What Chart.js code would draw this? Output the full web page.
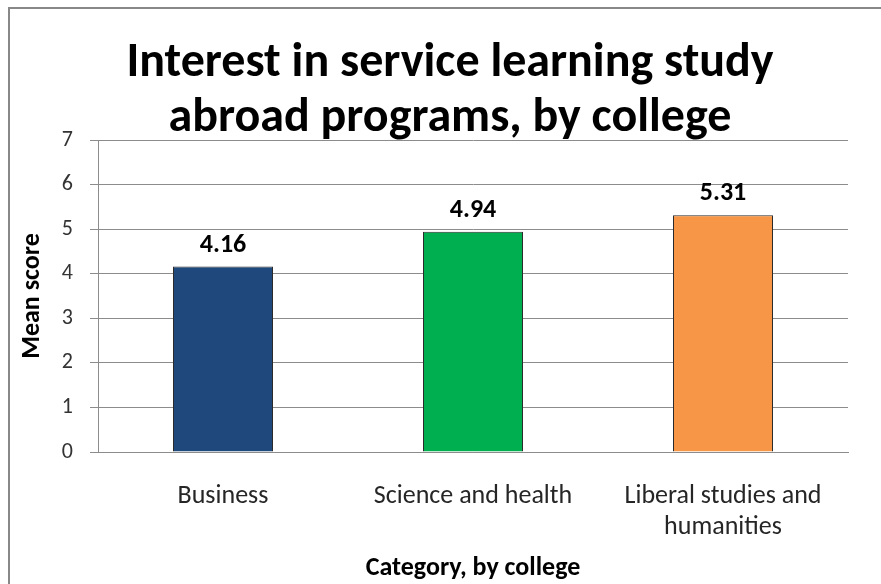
<!DOCTYPE html>
<html>
<head>
<meta charset="utf-8">
<title>Interest in service learning study abroad programs</title>
<script src="https://cdn.jsdelivr.net/npm/chart.js@4/dist/chart.umd.min.js"></script>
<style>
  html, body { margin: 0; padding: 0; background: #fff; }
  canvas { display: block; }
</style>
</head>
<body>
<canvas id="chart" width="881" height="584"></canvas>
<script>
"use strict";

// college categories and mean interest scores
const colleges = ['Business', 'Science and health', ['Liberal studies and', 'humanities']];
const scores = [4.16, 4.94, 5.31];
const barColors = ['#1f497d', '#00b050', '#f79646'];
const titleLines = ['Interest in service learning study', 'abroad programs, by college'];

const FONT = 'Carlito, Calibri, "Open Sans", sans-serif';
Chart.defaults.font.family = FONT;

// white background + grey frame around the whole chart
const frame = {
    id: 'frame',
    beforeDraw(chart) {
        const { ctx, width, height } = chart;
        ctx.save();
        ctx.fillStyle = '#fff';
        ctx.fillRect(0, 0, width, height);
        ctx.strokeStyle = '#888';
        ctx.lineWidth = 2;
        ctx.strokeRect(9, 8, width + 20, height + 20);
        ctx.restore();
    }
};

// value printed above each bar
const valueLabels = {
    id: 'valueLabels',
    afterDatasetsDraw(chart) {
        const { ctx } = chart;
        const meta = chart.getDatasetMeta(0);
        ctx.save();
        ctx.font = 'bold 26px ' + FONT;
        ctx.fillStyle = '#000';
        ctx.textAlign = 'center';
        ctx.textBaseline = 'alphabetic';
        meta.data.forEach((bar, i) => {
            ctx.fillText(scores[i].toFixed(2), bar.x, bar.y - 15);
        });
        ctx.restore();
    }
};

const chart = new Chart(document.getElementById('chart').getContext('2d'), {
    type: 'bar',
    data: {
        labels: colleges,
        datasets: [{
            label: 'Mean score',
            data: scores,
            backgroundColor: barColors,
            borderColor: '#2b2b2b',
            borderWidth: 1,
            barPercentage: 0.4,
            categoryPercentage: 1
        }]
    },
    options: {
        responsive: false,
        animation: false,
        layout: { padding: { left: 52, right: 33, top: 0, bottom: 0 } },
        plugins: {
            legend: { display: false },
            tooltip: { enabled: false },
            title: {
                display: true,
                text: titleLines,
                color: '#000',
                font: { size: 48, weight: 'bold', lineHeight: 1.146 },
                padding: { top: 36, bottom: -6 }
            }
        },
        scales: {
            x: {
                grid: { display: false },
                border: { display: true, color: '#8c8c8c', width: 1 },
                ticks: {
                    color: '#262626',
                    font: { size: 26 },
                    padding: 21,
                    maxRotation: 0,
                    autoSkip: false
                },
                title: {
                    display: true,
                    text: 'Category, by college',
                    color: '#000',
                    font: { size: 26, weight: 'bold' },
                    padding: { top: 0, bottom: 0 }
                },
                afterFit(scale) { scale.height = 132; }
            },
            y: {
                min: 0,
                max: 7,
                grid: { color: '#8c8c8c', tickLength: 8, drawTicks: true },
                border: { display: true, color: '#8c8c8c', width: 1 },
                ticks: {
                    stepSize: 1,
                    color: '#333',
                    font: { size: 22 },
                    padding: 17
                },
                title: {
                    display: true,
                    text: 'Mean score',
                    color: '#000',
                    font: { size: 26, weight: 'bold' },
                    padding: { top: -35, bottom: 0 }
                },
                afterFit(scale) { scale.width = 46; }
            }
        }
    },
    plugins: [frame, valueLabels]
});
</script>
</body>
</html>
